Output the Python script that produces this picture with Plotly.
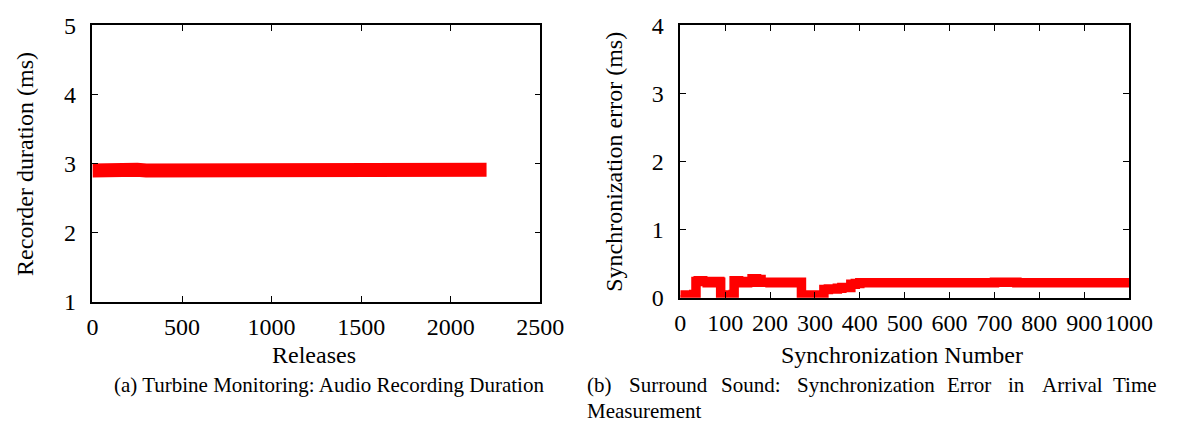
import plotly.graph_objects as go

# ---- Data (a): Turbine monitoring, audio recording duration ----
releases = list(range(0, 2200, 50)) + [2200]
recorder_ms = [2.90, 2.91, 2.92, 2.92, 2.91, 2.91, 2.90, 2.90, 2.91, 2.92,
               2.89, 2.88, 2.88, 2.88, 2.89, 2.89, 2.91, 2.93, 2.92, 2.91,
               2.91, 2.91, 2.90, 2.92, 2.93, 2.92, 2.92, 2.91, 2.91, 2.92,
               2.93, 2.93, 2.92, 2.91, 2.91, 2.91, 2.93, 2.93, 2.92, 2.91,
               2.90, 2.90, 2.90, 2.91, 2.91]

# ---- Data (b): Surround sound, synchronization error ----
sync_number = [0, 10, 20, 30, 35, 40, 50, 60, 70, 80, 88, 90, 100, 110, 118,
               120, 130, 140, 150, 160, 170, 180, 190, 200, 210, 220, 230, 240,
               250, 260, 265, 270, 280, 290, 300, 310, 320, 330, 340, 350, 360,
               370, 380, 390, 400, 450, 500, 550, 600, 650, 700, 750, 800, 850,
               900, 950, 1000]
sync_error_ms = [0.04, 0.03, 0.04, 0.05, 0.24, 0.25, 0.24, 0.22, 0.22, 0.24,
                 0.23, 0.04, 0.03, 0.04, 0.05, 0.25, 0.24, 0.22, 0.23, 0.28,
                 0.27, 0.23, 0.23, 0.22, 0.23, 0.23, 0.22, 0.22, 0.23, 0.22,
                 0.23, 0.03, 0.03, 0.04, 0.03, 0.04, 0.12, 0.13, 0.13, 0.14,
                 0.15, 0.15, 0.20, 0.21, 0.22, 0.22, 0.22, 0.22, 0.22, 0.22,
                 0.23, 0.22, 0.22, 0.22, 0.22, 0.22, 0.22]

left_xticks = [0, 500, 1000, 1500, 2000, 2500]
left_yticks = [1, 2, 3, 4, 5]
right_xticks = [0, 100, 200, 300, 400, 500, 600, 700, 800, 900, 1000]
right_yticks = [0, 1, 2, 3, 4]

W, H = 1184, 435
FONT = "Liberation Serif, Times New Roman, serif"
FS = 24      # gnuplot text
CFS = 21     # caption text
RED = "#ff0000"

def px(x):
    return x / W

def py(y):
    return 1 - y / H

fig = go.Figure()
fig.add_trace(go.Scatter(x=releases, y=recorder_ms, mode="lines",
                         line=dict(color=RED, width=14), xaxis="x", yaxis="y",
                         showlegend=False))
fig.add_trace(go.Scatter(x=sync_number, y=sync_error_ms, mode="lines",
                         line=dict(color=RED, width=9.5, shape="hv"),
                         xaxis="x2", yaxis="y2", showlegend=False))

axis_common = dict(showline=True, linecolor="black", linewidth=1.5,
                   ticks="inside", ticklen=6, tickcolor="black", tickwidth=1,
                   mirror="ticks", showgrid=False, zeroline=False,
                   tickfont=dict(family=FONT, size=FS, color="black"))

fig.update_layout(
    width=W, height=H,
    margin=dict(l=0, r=0, t=0, b=0),
    paper_bgcolor="white", plot_bgcolor="white",
    xaxis=dict(domain=[px(88.7), px(548.2)], range=[0, 2500], tickvals=left_xticks,
               anchor="y", ticklabelstandoff=3, **axis_common),
    yaxis=dict(domain=[py(307.1), py(13.2)], range=[1, 5], tickvals=left_yticks,
               anchor="x", ticklabelstandoff=10, **axis_common),
    xaxis2=dict(domain=[px(691.8), px(1152.3)], range=[0, 1000], tickvals=right_xticks,
                anchor="y2", ticklabelstandoff=3, **axis_common),
    yaxis2=dict(domain=[py(302.9), py(13.2)], range=[0, 4], tickvals=right_yticks,
                anchor="x2", ticklabelstandoff=10, **axis_common),
)

def ann(text, x, y, size, xanchor="center", yanchor="middle", angle=0):
    fig.add_annotation(text=text, x=px(x), y=py(y), xref="paper", yref="paper",
                       xanchor=xanchor, yanchor=yanchor, textangle=angle,
                       showarrow=False,
                       font=dict(family=FONT, size=size, color="black"))

ann("Recorder duration (ms)", 20, 160, FS, angle=-90)
ann("Synchronization error (ms)", 623, 158, FS, angle=-90)
ann("Releases", 316, 364, FS)
ann("Synchronization Number", 919, 364, FS)
ann("(a) Turbine Monitoring: Audio Recording Duration", 331, 396, CFS)

# caption (b): first line justified across the right half
words_b = ["(b)", "Surround", "Sound:", "Synchronization", "Error", "in", "Arrival"]
word_x = [594, 637, 732, 810, 963, 1026, 1061]
for w, x in zip(words_b, word_x):
    ann(w, x, 396, CFS, xanchor="left")
ann("Time", 1183, 396, CFS, xanchor="right")
ann("Measurement", 594, 423, CFS, xanchor="left")

fig.write_html("out.html")
